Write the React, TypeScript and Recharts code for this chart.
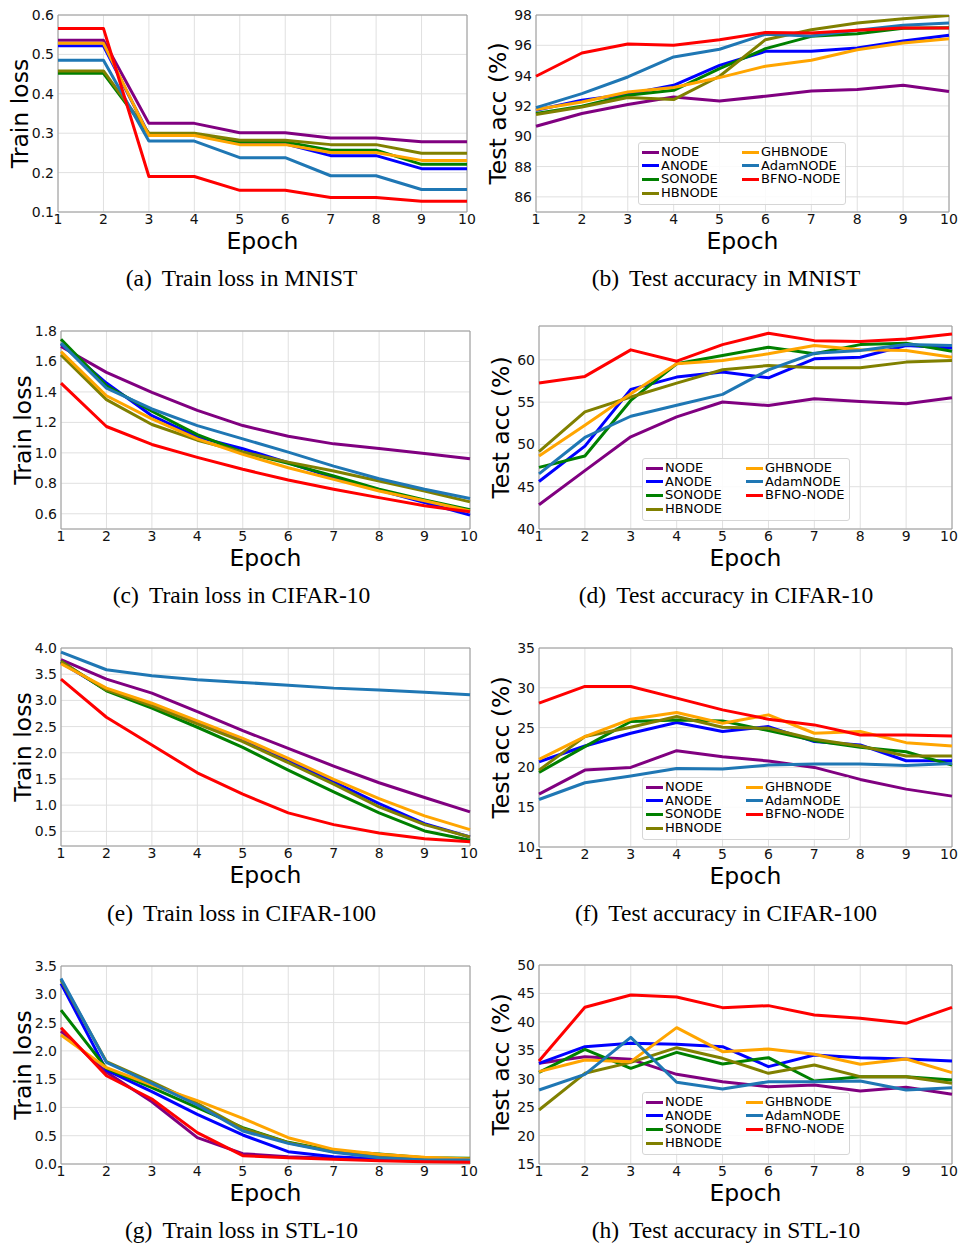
import { CartesianGrid, Legend, Line, LineChart, ReferenceArea, XAxis, YAxis } from 'recharts';

const FONT = '"DejaVu Sans", sans-serif';

const EPOCHS = [1, 2, 3, 4, 5, 6, 7, 8, 9, 10];
const SERIES = ['NODE', 'ANODE', 'SONODE', 'HBNODE', 'GHBNODE', 'AdamNODE', 'BFNO-NODE'];
const COLORS = ['#800080', '#0000ff', '#008000', '#808000', '#ffa500', '#1f77b4', '#ff0000'];

// rows follow SERIES order
const mnistLoss = [
	[0.536, 0.536, 0.325, 0.325, 0.301, 0.301, 0.288, 0.288, 0.278, 0.278],
	[0.522, 0.522, 0.296, 0.296, 0.273, 0.273, 0.243, 0.243, 0.21, 0.21],
	[0.452, 0.452, 0.298, 0.298, 0.278, 0.278, 0.257, 0.257, 0.221, 0.221],
	[0.458, 0.458, 0.3, 0.3, 0.282, 0.282, 0.271, 0.271, 0.249, 0.249],
	[0.528, 0.528, 0.294, 0.294, 0.271, 0.271, 0.251, 0.251, 0.231, 0.231],
	[0.485, 0.485, 0.28, 0.28, 0.238, 0.238, 0.192, 0.192, 0.157, 0.157],
	[0.566, 0.566, 0.19, 0.19, 0.155, 0.155, 0.137, 0.137, 0.127, 0.127],
];
const mnistAcc = [
	[90.66, 91.5, 92.09, 92.59, 92.33, 92.64, 92.99, 93.08, 93.36, 92.95],
	[91.71, 92.37, 92.77, 93.36, 94.68, 95.6, 95.6, 95.82, 96.29, 96.66],
	[91.5, 91.98, 92.7, 93.03, 94.46, 95.78, 96.59, 96.77, 97.12, 97.16],
	[91.43, 91.93, 92.55, 92.42, 93.96, 96.37, 97.03, 97.47, 97.76, 97.96],
	[91.76, 92.26, 92.92, 93.21, 93.87, 94.62, 95.01, 95.71, 96.15, 96.44],
	[91.89, 92.81, 93.91, 95.23, 95.74, 96.73, 96.62, 96.99, 97.32, 97.47],
	[93.96, 95.49, 96.09, 96.0, 96.37, 96.84, 96.81, 96.99, 97.14, 97.14],
];
const cifar10Loss = [
	[1.698, 1.528, 1.397, 1.279, 1.179, 1.109, 1.059, 1.029, 0.996, 0.961],
	[1.715, 1.458, 1.244, 1.105, 1.027, 0.935, 0.837, 0.756, 0.674, 0.591],
	[1.746, 1.44, 1.273, 1.12, 1.005, 0.931, 0.848, 0.761, 0.691, 0.626],
	[1.643, 1.349, 1.186, 1.083, 1.005, 0.939, 0.881, 0.815, 0.75, 0.678],
	[1.665, 1.375, 1.223, 1.092, 0.99, 0.902, 0.826, 0.75, 0.685, 0.619],
	[1.72, 1.425, 1.288, 1.179, 1.092, 1.005, 0.913, 0.83, 0.761, 0.7],
	[1.458, 1.173, 1.055, 0.97, 0.892, 0.822, 0.761, 0.706, 0.652, 0.613],
];
const cifar10Acc = [
	[42.86, 46.9, 50.9, 53.25, 55.02, 54.59, 55.41, 55.06, 54.82, 55.53],
	[45.61, 49.8, 56.51, 57.96, 58.55, 57.88, 60.12, 60.31, 61.69, 61.41],
	[47.29, 48.63, 55.2, 59.53, 60.51, 61.49, 60.71, 61.8, 61.96, 61.02],
	[49.14, 53.84, 55.61, 57.25, 58.82, 59.33, 59.06, 59.06, 59.73, 59.92],
	[48.63, 52.27, 56.0, 59.53, 59.92, 60.71, 61.69, 61.18, 61.1, 60.31],
	[46.51, 50.82, 53.33, 54.63, 55.92, 58.82, 60.78, 61.1, 61.8, 61.69],
	[57.25, 58.04, 61.18, 59.84, 61.8, 63.14, 62.27, 62.16, 62.47, 63.06],
];
const cifar100Loss = [
	[3.776, 3.406, 3.138, 2.787, 2.423, 2.084, 1.746, 1.427, 1.146, 0.871],
	[3.72, 3.2, 2.914, 2.576, 2.244, 1.848, 1.446, 1.03, 0.647, 0.392],
	[3.745, 3.183, 2.851, 2.487, 2.103, 1.669, 1.254, 0.852, 0.507, 0.328],
	[3.74, 3.2, 2.895, 2.55, 2.212, 1.81, 1.401, 0.967, 0.628, 0.392],
	[3.7, 3.234, 2.946, 2.608, 2.276, 1.893, 1.49, 1.126, 0.794, 0.532],
	[3.92, 3.585, 3.47, 3.393, 3.342, 3.291, 3.234, 3.2, 3.157, 3.106],
	[3.406, 2.678, 2.148, 1.618, 1.209, 0.852, 0.628, 0.469, 0.36, 0.303],
];
const cifar100Acc = [
	[16.64, 19.66, 20.0, 22.1, 21.34, 20.8, 20.0, 18.49, 17.27, 16.39],
	[20.71, 22.69, 24.29, 25.63, 24.5, 25.13, 23.24, 22.82, 20.84, 20.84],
	[19.37, 22.61, 25.76, 25.97, 25.84, 24.62, 23.36, 22.52, 21.97, 20.29],
	[19.66, 23.87, 25.04, 26.39, 25.04, 24.92, 23.53, 22.69, 21.43, 21.43],
	[21.0, 23.87, 26.05, 26.89, 25.55, 26.6, 24.29, 24.5, 23.11, 22.69],
	[15.97, 18.07, 18.91, 19.87, 19.79, 20.29, 20.42, 20.42, 20.25, 20.5],
	[28.07, 30.17, 30.17, 28.7, 27.23, 26.05, 25.34, 24.08, 24.08, 23.95],
];
const stl10Loss = [
	[2.35, 1.62, 1.1, 0.465, 0.182, 0.13, 0.1, 0.071, 0.053, 0.041],
	[3.19, 1.66, 1.28, 0.878, 0.513, 0.218, 0.13, 0.088, 0.071, 0.053],
	[2.72, 1.69, 1.35, 0.996, 0.642, 0.383, 0.229, 0.176, 0.112, 0.1],
	[3.25, 1.81, 1.45, 1.07, 0.63, 0.377, 0.218, 0.147, 0.1, 0.088],
	[2.28, 1.703, 1.396, 1.12, 0.807, 0.465, 0.259, 0.171, 0.118, 0.088],
	[3.28, 1.797, 1.426, 1.043, 0.583, 0.365, 0.206, 0.112, 0.071, 0.071],
	[2.41, 1.56, 1.149, 0.554, 0.147, 0.112, 0.082, 0.059, 0.041, 0.029],
];
const stl10Acc = [
	[32.71, 33.88, 33.41, 30.77, 29.48, 28.6, 28.9, 27.84, 28.49, 27.26],
	[32.71, 35.64, 36.22, 36.05, 35.64, 32.12, 34.17, 33.7, 33.47, 33.12],
	[31.13, 35.17, 31.83, 34.64, 32.59, 33.7, 29.6, 30.36, 30.36, 29.78],
	[24.5, 30.95, 32.88, 35.46, 33.59, 30.95, 32.41, 30.36, 30.36, 29.19],
	[31.24, 33.29, 33.0, 38.98, 34.76, 35.23, 34.29, 32.53, 33.47, 31.07],
	[28.02, 30.77, 37.28, 29.37, 28.19, 29.48, 29.48, 29.6, 28.02, 28.43],
	[33.12, 42.56, 44.72, 44.37, 42.5, 42.85, 41.21, 40.62, 39.74, 42.56],
];

const mnistLossTicks = [0.1, 0.2, 0.3, 0.4, 0.5, 0.6];
const mnistAccTicks = [86, 88, 90, 92, 94, 96, 98];
const cifar10LossTicks = [0.6, 0.8, 1.0, 1.2, 1.4, 1.6, 1.8];
const cifar10AccTicks = [40, 45, 50, 55, 60];
const cifar100LossTicks = [0.5, 1.0, 1.5, 2.0, 2.5, 3.0, 3.5, 4.0];
const cifar100AccTicks = [10, 15, 20, 25, 30, 35];
const stl10LossTicks = [0.0, 0.5, 1.0, 1.5, 2.0, 2.5, 3.0, 3.5];
const stl10AccTicks = [15, 20, 25, 30, 35, 40, 45, 50];

const captionTags = ['(a)', '(b)', '(c)', '(d)', '(e)', '(f)', '(g)', '(h)'];
const captionTexts = [
	'Train loss in MNIST',
	'Test accuracy in MNIST',
	'Train loss in CIFAR-10',
	'Test accuracy in CIFAR-10',
	'Train loss in CIFAR-100',
	'Test accuracy in CIFAR-100',
	'Train loss in STL-10',
	'Test accuracy in STL-10',
];

type Box = { l: number; r: number; t: number; b: number };

type PanelProps = {
	values: number[][];
	domain: [number, number];
	ticks: number[];
	decimals: number;
	yTitle: string;
	left: number;
	top: number;
	plot: Box;
	legendAt?: { x: number; y: number };
};

const XTitle = (props: any) => {
	const vb = props.viewBox ?? {};
	return (
		<text x={vb.x + vb.width / 2} y={vb.y + 37} textAnchor="middle" fontSize={23.5} fontFamily={FONT} fill="#000">
			Epoch
		</text>
	);
};

const YTitle = (props: any) => {
	const vb = props.viewBox ?? {};
	const bx = vb.x + vb.width - 30;
	const cy = vb.y + vb.height / 2;
	return (
		<text
			x={bx}
			y={cy}
			transform={`rotate(-90 ${bx} ${cy})`}
			textAnchor="middle"
			fontSize={23.5}
			fontFamily={FONT}
			fill="#000"
		>
			{props.text}
		</text>
	);
};

// keeps the last epoch label inside the page edge
const XTick = (props: any) => {
	const { x, y, payload, maxX } = props;
	return (
		<text x={Math.min(x, maxX)} y={y + 10} textAnchor="middle" fontSize={14} fontFamily={FONT} fill="#111">
			{payload.value}
		</text>
	);
};

const LegendBox = () => (
	<div
		style={{
			position: 'relative',
			width: 208,
			height: 63,
			boxSizing: 'border-box',
			border: '1px solid #d6d6d6',
			borderRadius: 3,
			background: 'rgba(255,255,255,0.85)',
			fontFamily: FONT,
			fontSize: 13,
			color: '#000',
		}}
	>
		{SERIES.map((name, k) => {
			const col = k < 4 ? 0 : 1;
			const row = k < 4 ? k : k - 4;
			return (
				<div
					key={name}
					style={{
						position: 'absolute',
						left: col ? 103 : 3,
						top: 9 + row * 13.7 - 8,
						height: 16,
						display: 'flex',
						alignItems: 'center',
						whiteSpace: 'nowrap',
						lineHeight: '16px',
					}}
				>
					<span style={{ display: 'inline-block', width: 17, height: 3, background: COLORS[k], marginRight: 2 }} />
					<span>{name}</span>
				</div>
			);
		})}
	</div>
);

const Panel = ({ values, domain, ticks, decimals, yTitle, left, top, plot, legendAt }: PanelProps) => {
	const width = 479;
	const height = plot.b - top + 46;
	const rows = EPOCHS.map((epoch, i) => {
		const row: Record<string, number> = { epoch };
		SERIES.forEach((s, k) => {
			row[s] = values[k][i];
		});
		return row;
	});

	return (
		<div style={{ position: 'absolute', left, top }}>
			<LineChart
				width={width}
				height={height}
				data={rows}
				margin={{ top: plot.t - top, right: left + width - plot.r, bottom: 0, left: 0 }}
			>
				<CartesianGrid stroke="#e0e0e0" strokeWidth={1} />
				<XAxis
					dataKey="epoch"
					type="number"
					domain={[1, 10]}
					ticks={EPOCHS}
					interval={0}
					height={top + height - plot.b}
					axisLine={false}
					tickLine={false}
					tickSize={0}
					tickMargin={2}
					tick={<XTick maxX={width - 10} />}
					label={<XTitle />}
				/>
				<YAxis
					type="number"
					domain={domain}
					ticks={ticks}
					interval={0}
					allowDataOverflow
					width={plot.l - left}
					axisLine={false}
					tickLine={false}
					tickSize={0}
					tickMargin={4}
					tick={{ fontSize: 14, fill: '#111', fontFamily: FONT }}
					tickFormatter={(v: number) => v.toFixed(decimals)}
					label={<YTitle text={yTitle} />}
				/>
				{SERIES.map((s, k) => (
					<Line
						key={s}
						dataKey={s}
						type="linear"
						stroke={COLORS[k]}
						strokeWidth={3}
						strokeLinejoin="round"
						dot={false}
						activeDot={false}
						isAnimationActive={false}
					/>
				))}
				<ReferenceArea
					x1={1}
					x2={10}
					y1={domain[0]}
					y2={domain[1]}
					fill="none"
					fillOpacity={0}
					stroke="#9a9a9a"
					strokeWidth={1}
					ifOverflow="visible"
				/>
				{legendAt && (
					<Legend
						layout="vertical"
						align="center"
						verticalAlign="middle"
						wrapperStyle={{ left: legendAt.x, top: legendAt.y, width: 208, height: 63 }}
						content={() => <LegendBox />}
					/>
				)}
			</LineChart>
		</div>
	);
};

export default function App() {
	return (
		<div style={{ position: 'absolute', left: 0, top: 0, width: 959, height: 1243, background: '#fff' }}>
			<Panel
				values={mnistLoss}
				domain={[0.1, 0.6]}
				ticks={mnistLossTicks}
				decimals={1}
				yTitle="Train loss"
				left={0}
				top={0}
				plot={{ l: 58, r: 467, t: 15, b: 212 }}
			/>
			<Panel
				values={mnistAcc}
				domain={[85, 98]}
				ticks={mnistAccTicks}
				decimals={0}
				yTitle="Test acc (%)"
				left={480}
				top={0}
				plot={{ l: 536, r: 949, t: 15, b: 212 }}
				legendAt={{ x: 158, y: 142 }}
			/>
			<Panel
				values={cifar10Loss}
				domain={[0.5, 1.8]}
				ticks={cifar10LossTicks}
				decimals={1}
				yTitle="Train loss"
				left={0}
				top={311}
				plot={{ l: 61, r: 470, t: 331, b: 529 }}
			/>
			<Panel
				values={cifar10Acc}
				domain={[40, 64]}
				ticks={cifar10AccTicks}
				decimals={0}
				yTitle="Test acc (%)"
				left={480}
				top={311}
				plot={{ l: 539, r: 952, t: 326, b: 529 }}
				legendAt={{ x: 162, y: 147 }}
			/>
			<Panel
				values={cifar100Loss}
				domain={[0.22, 4.0]}
				ticks={cifar100LossTicks}
				decimals={1}
				yTitle="Train loss"
				left={0}
				top={633}
				plot={{ l: 61, r: 470, t: 648, b: 846 }}
			/>
			<Panel
				values={cifar100Acc}
				domain={[10, 35]}
				ticks={cifar100AccTicks}
				decimals={0}
				yTitle="Test acc (%)"
				left={480}
				top={633}
				plot={{ l: 539, r: 952, t: 648, b: 847 }}
				legendAt={{ x: 162, y: 144 }}
			/>
			<Panel
				values={stl10Loss}
				domain={[0, 3.5]}
				ticks={stl10LossTicks}
				decimals={1}
				yTitle="Train loss"
				left={0}
				top={950}
				plot={{ l: 61, r: 470, t: 966, b: 1164 }}
			/>
			<Panel
				values={stl10Acc}
				domain={[15, 50]}
				ticks={stl10AccTicks}
				decimals={0}
				yTitle="Test acc (%)"
				left={480}
				top={950}
				plot={{ l: 539, r: 952, t: 965, b: 1164 }}
				legendAt={{ x: 162, y: 142 }}
			/>
			<svg
				width={959}
				height={1243}
				style={{ position: 'absolute', left: 0, top: 0, pointerEvents: 'none' }}
			>
				{captionTags.map((tag, i) => (
					<text
						key={tag}
						x={i % 2 ? 726 : 241.5}
						y={286 + Math.floor(i / 2) * 317.3}
						textAnchor="middle"
						fontSize={23.5}
						fontFamily='"Liberation Serif", serif'
						fill="#000"
					>
						<tspan>{tag}</tspan>
						<tspan dx={10}>{captionTexts[i]}</tspan>
					</text>
				))}
			</svg>
		</div>
	);
}
